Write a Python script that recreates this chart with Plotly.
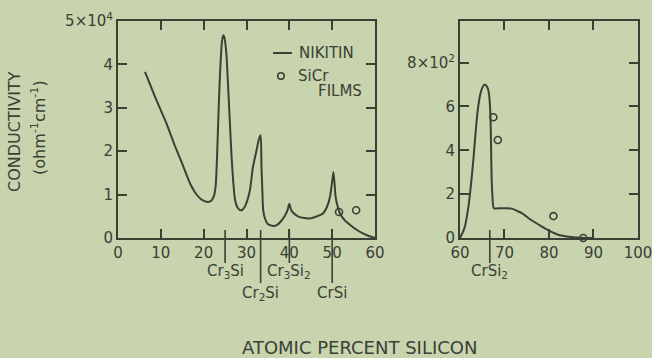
import plotly.graph_objects as go

# ---------------- data ----------------
# Left panel: 0-60 at.% Si, conductivity in units of 1e4 ohm^-1 cm^-1
nikitin_left_x = [6.3, 8.8, 11.4, 13.3, 15.2, 17.0, 18.2, 19.3, 20.2, 21.0, 21.8, 22.4, 22.8, 23.1,
                  23.4, 23.7, 24.0, 24.3, 24.6, 24.9, 25.3, 25.7, 26.1, 26.5, 26.9, 27.3, 27.8,
                  28.4, 28.9, 29.6, 30.2, 30.8, 31.5, 32.3, 32.9, 33.3, 33.5, 33.7, 33.9, 34.3,
                  35.0, 36.0, 37.0, 38.0, 39.0, 39.6, 40.0, 40.4, 41.0, 42.0, 43.5, 44.8, 46.5,
                  47.9, 48.8, 49.5, 50.0, 50.3, 50.6, 50.8, 51.3, 51.8, 53.0, 54.2, 55.7, 57.3,
                  58.7, 60.0]
nikitin_left_y = [3.83, 3.22, 2.62, 2.12, 1.66, 1.22, 1.02, 0.90, 0.85, 0.83, 0.86, 0.97, 1.20, 1.80,
                  2.70, 3.50, 4.15, 4.55, 4.67, 4.60, 4.25, 3.50, 2.70, 1.90, 1.30, 0.90, 0.72,
                  0.65, 0.64, 0.72, 0.87, 1.10, 1.63, 2.00, 2.28, 2.37, 1.63, 1.10, 0.64, 0.45,
                  0.32, 0.28, 0.29, 0.38, 0.52, 0.65, 0.79, 0.65, 0.57, 0.50, 0.46, 0.45, 0.50,
                  0.57, 0.72, 0.95, 1.30, 1.52, 1.20, 0.95, 0.72, 0.57, 0.40, 0.30, 0.19, 0.10,
                  0.04, 0.0]
films_left_x = [51.6, 55.6]
films_left_y = [0.60, 0.64]

# Right panel: 60-100 at.% Si, conductivity in units of 1e2 ohm^-1 cm^-1
nikitin_right_x = [60.0, 61.0, 61.9, 62.5, 63.0, 63.5, 64.0, 64.5, 65.0, 65.6, 66.1, 66.5, 66.8,
                   66.9, 67.0, 67.1, 67.3, 67.6, 69.0, 70.5, 71.6, 73.0, 74.0, 76.0, 78.4, 80.0,
                   82.1, 84.0, 86.0, 88.0, 90.0]
nikitin_right_y = [0.0, 0.45, 1.43, 2.50, 3.56, 4.80, 5.84, 6.50, 6.85, 7.00, 6.90, 6.60, 5.80,
                   5.08, 4.00, 2.80, 1.90, 1.36, 1.36, 1.36, 1.34, 1.22, 1.12, 0.82, 0.52, 0.34,
                   0.15, 0.07, 0.02, 0.0, 0.0]
films_right_x = [67.5, 68.5, 81.0, 87.7]
films_right_y = [5.51, 4.47, 1.00, 0.0]

left_xticks = [0, 10, 20, 30, 40, 50, 60]
left_yticks = [0, 1, 2, 3, 4, 5]
left_yticktext = ["0", "1", "2", "3", "4", "5×10<sup>4</sup>"]
right_xticks = [60, 70, 80, 90, 100]
right_yticks = [0, 2, 4, 6, 8]
right_yticktext = ["0", "2", "4", "6", "8×10<sup>2</sup>"]

# compound markers: (at.% Si, label, panel, long line?)
compounds = [(25.0, "Cr<sub>3</sub>Si", "x", False),
             (33.3, "Cr<sub>2</sub>Si", "x", True),
             (40.0, "Cr<sub>3</sub>Si<sub>2</sub>", "x", False),
             (50.0, "CrSi", "x", True),
             (66.7, "CrSi<sub>2</sub>", "x2", False)]

# ---------------- style ----------------
W, H = 652, 358
BG = "#c7d4ae"
INK = "#3b4034"
FONT = "DejaVu Sans"


def px(x):
    return x / W


def py(y):
    return 1 - y / H


fig = go.Figure()
line_style = dict(color=INK, width=2, shape="spline", smoothing=0.6)
marker_style = dict(symbol="circle-open", size=7, color=INK, line=dict(width=1.6, color=INK))

fig.add_trace(go.Scatter(x=nikitin_left_x, y=nikitin_left_y, mode="lines",
                         line=line_style, xaxis="x", yaxis="y", name="NIKITIN"))
fig.add_trace(go.Scatter(x=films_left_x, y=films_left_y, mode="markers", marker=marker_style,
                         xaxis="x", yaxis="y", name="SiCr FILMS", cliponaxis=False))
fig.add_trace(go.Scatter(x=nikitin_right_x, y=nikitin_right_y, mode="lines",
                         line=line_style, xaxis="x2", yaxis="y2", name="NIKITIN"))
fig.add_trace(go.Scatter(x=films_right_x, y=films_right_y, mode="markers", marker=marker_style,
                         xaxis="x2", yaxis="y2", name="SiCr FILMS", cliponaxis=False))

axis_common = dict(showline=True, linewidth=2, linecolor=INK, mirror="ticks", ticks="inside",
                   ticklen=9, tickwidth=2, tickcolor=INK, showgrid=False, zeroline=False,
                   tickfont=dict(family=FONT, size=15, color=INK), automargin=False,
                   ticklabeloverflow="allow")

ydom = [py(238), py(21)]
fig.update_layout(
    width=W, height=H, margin=dict(l=0, r=0, t=0, b=0),
    paper_bgcolor=BG, plot_bgcolor=BG, showlegend=False, template="none",
    xaxis=dict(domain=[px(118), px(375)], range=[0, 60.001], tickvals=left_xticks, anchor="y",
               **axis_common),
    yaxis=dict(domain=ydom, range=[0, 5.001], tickvals=left_yticks, ticktext=left_yticktext,
               anchor="x", **axis_common),
    xaxis2=dict(domain=[px(460), px(638)], range=[60, 100.01], tickvals=right_xticks,
                anchor="y2", **axis_common),
    yaxis2=dict(domain=ydom, range=[0, 9.9], tickvals=right_yticks, ticktext=right_yticktext,
                anchor="x2", **axis_common),
)

shapes = []
annotations = []
for xv, label, xr, long_line in compounds:
    y_end = 283 if long_line else 263
    y_lab = 293 if long_line else 271
    shapes.append(dict(type="line", xref=xr, yref="paper", x0=xv, x1=xv, y0=py(230), y1=py(y_end),
                       line=dict(color=INK, width=1.6)))
    annotations.append(dict(x=xv, y=py(y_lab), xref=xr, yref="paper", text=label, showarrow=False,
                            xanchor="center", yanchor="middle",
                            font=dict(family=FONT, size=15, color=INK)))

# legend drawn by hand
shapes.append(dict(type="line", xref="paper", yref="paper", x0=px(273), x1=px(292), y0=py(53),
                   y1=py(53), line=dict(color=INK, width=2)))
shapes.append(dict(type="circle", xref="paper", yref="paper", xsizemode="pixel", ysizemode="pixel",
                   xanchor=px(281), yanchor=py(76), x0=-3.3, x1=3.3, y0=-3.3, y1=3.3,
                   line=dict(color=INK, width=1.6)))
leg_font = dict(family=FONT, size=15, color=INK)
annotations += [
    dict(x=px(297), y=py(53), xref="paper", yref="paper", text="NIKITIN", showarrow=False,
         xanchor="left", yanchor="middle", font=leg_font),
    dict(x=px(296), y=py(76), xref="paper", yref="paper", text="SiCr", showarrow=False,
         xanchor="left", yanchor="middle", font=leg_font),
    dict(x=px(316), y=py(91), xref="paper", yref="paper", text="FILMS", showarrow=False,
         xanchor="left", yanchor="middle", font=leg_font),
    # axis titles
    dict(x=px(359), y=py(347), xref="paper", yref="paper", text="ATOMIC PERCENT SILICON",
         showarrow=False, xanchor="center", yanchor="middle",
         font=dict(family=FONT, size=18, color=INK)),
    dict(x=px(15), y=py(132), xref="paper", yref="paper", text="CONDUCTIVITY", textangle=-90,
         showarrow=False, xanchor="center", yanchor="middle",
         font=dict(family=FONT, size=16, color=INK)),
    dict(x=px(38), y=py(128), xref="paper", yref="paper",
         text="(ohm<sup>-1</sup>cm<sup>-1</sup>)", textangle=-90,
         showarrow=False, xanchor="center", yanchor="middle",
         font=dict(family=FONT, size=16, color=INK)),
]
fig.update_layout(shapes=shapes, annotations=annotations)

fig.write_html("out.html")
